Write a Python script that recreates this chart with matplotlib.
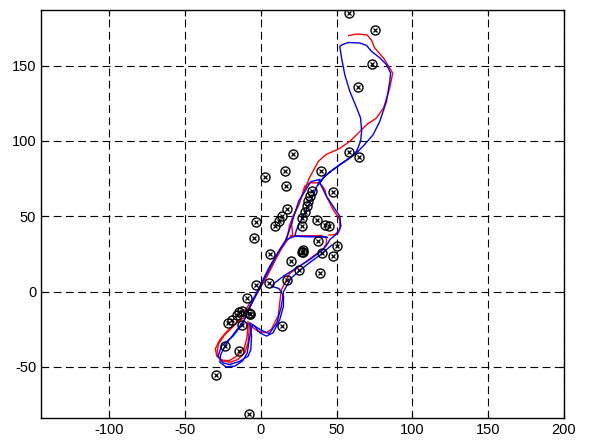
import numpy as np
import matplotlib.pyplot as plt

plt.rcParams['font.family'] = ['Liberation Sans', 'DejaVu Sans']
plt.rcParams['axes.unicode_minus'] = False

# observed points (circle + x markers)
pts_x = [58.5, 75, 73.5, 64, 58.3, 64.8, 21.5, 16, 2.6, 16.8, 40, 47.5,
         33.6, 32.3, 31.2, 30.2, 29, 17, 13.7, 12.1, 9.2, -3.3, -4.6,
         26.9, 26.9, 36.8, 42.6, 45, 37.6, 50.4, 27.3, 28, 27.8, 6.2,
         40.6, 47.9, 20.1, 24.9, 39.2, 17.3, 5.1, -3.4, -8.9, -12.7,
         -14.3, -16, -19.3, -21.5, -7.6, -7, -7.3, -12.4, 14.3, -23.8,
         -14.7, -29.5, -7.8]
pts_y = [185, 174, 151, 136, 92.5, 89.5, 91.5, 80, 76.3, 70.4, 80, 65.8,
         66.5, 63.3, 60, 56.6, 53, 54.7, 50.5, 47, 43.8, 46, 35.6,
         48.9, 43.8, 47.8, 44.2, 43.6, 33.7, 30.3, 26.5, 27.3, 26, 24.9,
         25.6, 23.4, 20.1, 14.4, 12.4, 7.7, 6, 4.3, -4.4, -12.8,
         -13.7, -15.3, -18.6, -20.8, -14.2, -15, -14.6, -22.4, -23.1, -36.5,
         -39.8, -55.2, -81.5]

# red traces
red1_x = [58, 63, 70, 73, 75, 81, 85, 87, 85, 81, 76, 70, 65, 59, 52, 43,
          38, 34.5, 32, 30, 27, 24.5, 21.3, 20.3, 21, 17, 14, 10, 6, 1.5,
          -2, -5, -8, -12, -16, -22, -27, -30, -29, -25, -20, -15, -10.6,
          -8.4, -7.7, -8, -5, -2, 3.7, 7, 11.5, 12.5, 13.5, 19, 26, 34.5,
          41, 43.3, 43.3, 40, 30, 20]
red1_y = [170, 171, 170.5, 167, 162, 155, 148.5, 145, 135, 122, 115, 111,
          106, 100, 95, 91, 86.5, 80, 75.5, 70, 63, 56.6, 50, 44.5, 38,
          33.5, 29, 22, 14, 6, 0, -6, -12, -18, -21, -26, -32, -38, -43,
          -46, -47, -45, -40.7, -34, -25, -21, -24, -26.4, -27.4, -25, -16,
          -7.5, 1, 12, 17, 23.4, 28, 32, 35.6, 37.2, 37, 37]
red2_x = [45, 48.8, 52.1, 52.1, 47.7, 43.3, 42.2, 38.9, 32.3, 29, 26.9,
          24.6, 21.3, 19, 18, 16, 12, 8, 4, 0, -4, -7.3, -12, -17, -24,
          -28, -29, -26, -21, -16, -11, -9, -8.5]
red2_y = [37.5, 37.8, 41.2, 47.8, 54.4, 63.3, 67.7, 72.2, 72.2, 70, 63.3,
          56.6, 50, 44, 39, 33, 26, 18, 10, 3, -4, -7.5, -16, -22, -29,
          -35, -42, -45.5, -46, -43, -38, -30, -20]

# blue traces
blue1_x = [38, 41, 47.7, 58.7, 63.2, 65.8, 66.5, 65.8, 63.2, 58.7, 55.4,
           53.3, 52.1, 53.3, 57.6, 65.3, 69.7, 73, 78.5, 82.9, 85.6, 85.1,
           82.9, 78.5, 74.1, 67.5, 62, 52.1, 43.3, 38.9, 43.3, 47.7, 52.1,
           52.8, 51, 45.5, 44.4, 41.2, 32.3, 23.6, 14.9, 9.2, 7.1, 12, 15,
           14.9, 12.5, 8.1, 3.7, -0.7, -4, -7.3, -6.1, -6.6, -8.4, -13.9,
           -20.5, -24.9, -28.2, -26, -18.3, -11.6, -8.4, -4, 0.4, 5.9,
           12.5, 16.9, 22.4, 30, 41, 44]
blue1_y = [71, 75.5, 81, 88.8, 93.2, 99.8, 106.4, 115.3, 122, 133, 144,
           155, 162.7, 163.8, 165.4, 165.1, 163.5, 159.6, 155.2, 150.7,
           145.2, 139.7, 126.4, 113.1, 104.2, 96.5, 91, 84.3, 77.7, 72.2,
           63.3, 56.6, 50, 43.4, 39, 34.5, 32.3, 27.9, 21.2, 15.7, 10.2,
           5.8, 3.5, 2, -3, -9.8, -18.6, -27.4, -29.6, -27.4, -23, -20.8,
           -29.6, -38.5, -43, -46.3, -48.5, -47.3, -43, -36.3, -29.6, -20.8,
           -12, -3.1, 5.8, 16.8, 27.9, 34.5, 36.7, 36.7, 36.5, 36]
blue2_x = [43, 30, 22.4, 23.6, 26.9, 32.3, 37.6, 39, 33, 25, 17, 12, 6,
           1, -3, -7, -11, -17, -23, -26.5, -27, -23, -17, -12, -9, -7.5,
           -5.5, 0, 5.5, 10.5, 13.5, 15, 20, 30, 40, 47]
blue2_y = [36.2, 36.4, 36.7, 41.2, 47.8, 58.9, 71, 74.5, 73, 60, 35, 27,
           16, 6, -2, -10, -19, -27, -35, -42, -47, -50, -49.5, -46, -41,
           -31, -22, -25.5, -28, -21, -10, 0, 9, 17.5, 25, 31]

fig = plt.figure(figsize=(5.9, 4.45), dpi=100)
ax = fig.add_axes([41 / 590, 27 / 445, 523 / 590, 408 / 445])

ax.plot(red1_x, red1_y, color='red', linewidth=1.0)
ax.plot(red2_x, red2_y, color='red', linewidth=1.0)
ax.plot(blue1_x, blue1_y, color='blue', linewidth=1.0)
ax.plot(blue2_x, blue2_y, color='blue', linewidth=1.0)

ax.plot(pts_x, pts_y, 'o', mfc='none', mec='black', ms=6.5, mew=1.0)
ax.plot(pts_x, pts_y, 'x', color='black', ms=3.5, mew=0.9)

ax.set_xlim(-145, 200)
ax.set_ylim(-84, 187)
ax.set_xticks([-100, -50, 0, 50, 100, 150, 200])
ax.set_yticks([-50, 0, 50, 100, 150])

ax.grid(True, color='black', linestyle=(0, (7, 4)), linewidth=0.8)
ax.tick_params(direction='in', top=True, right=True, labelsize=10.5,
               length=4, width=0.8)
for s in ax.spines.values():
    s.set_linewidth(1.0)

fig.savefig('out.png', dpi=100)
